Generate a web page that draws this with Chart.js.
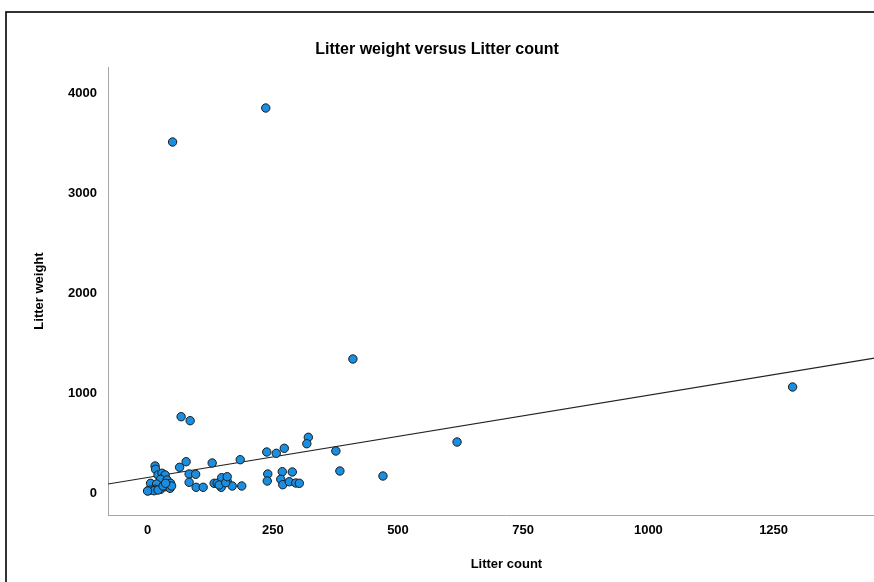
<!DOCTYPE html>
<html>
<head>
<meta charset="utf-8">
<script src="https://cdn.jsdelivr.net/npm/chart.js@4.4.1/dist/chart.umd.min.js"></script>
<style>
  html, body { margin: 0; padding: 0; background: #fff; overflow: hidden; }
  #wrap { width: 910px; height: 582px; }
</style>
</head>
<body>
<div id="wrap"><canvas id="c" width="910" height="582"></canvas></div>
<script>
// litter count (x) and litter weight (y), one entry per observation
const litterCount = [
  50, 236, 410, 618, 376, 384, 470, 1288,
  185, 238, 257, 273, 321, 318, 240, 239, 269, 289, 266, 270, 283, 296, 303,
  67, 85, 15, 16, 77, 64, 129, 83, 96, 83, 97, 111,
  6, 21, 29, 35, 26, 39, 46, 18, 33, 1, 7, 15, 26, 36, 45,
  133, 139, 148, 147, 159, 169, 188, 143, 13, 21, 48, 31, 36, 0, 156, 159
];
const litterWeight = [
  3510, 3850, 1340, 510, 420, 220, 170, 1060,
  333, 410, 397, 447, 557, 493, 190, 120, 213, 210, 137, 83, 113, 100, 97,
  763, 723, 270, 237, 313, 257, 300, 190, 187, 107, 57, 57,
  97, 180, 197, 180, 137, 130, 97, 90, 80, 23, 30, 37, 37, 63, 47,
  97, 97, 153, 57, 117, 70, 70, 80, 23, 30, 70, 70, 97, 20, 103, 163
];

// fit line endpoints at the two ends of the x range
const fitX = [-79, 1512];
const fitY = [90, 1398];

const xTicks = [0, 250, 500, 750, 1000, 1250];
const yTicks = [0, 1000, 2000, 3000, 4000];

const points = litterCount.map((x, i) => ({ x, y: litterWeight[i] }));
const fitPoints = fitX.map((x, i) => ({ x, y: fitY[i] }));

const FONT = "'Liberation Sans', Arial, sans-serif";

// white page, black outer frame and the chart heading
const framePlugin = {
  id: 'frame',
  beforeDraw(chart) {
    const ctx = chart.ctx;
    ctx.save();
    ctx.fillStyle = '#fff';
    ctx.fillRect(0, 0, chart.width, chart.height);
    ctx.strokeStyle = '#000';
    ctx.lineWidth = 1.6;
    ctx.strokeRect(6, 12, chart.width + 20, chart.height + 20);
    ctx.fillStyle = '#000';
    ctx.font = 'bold 16px ' + FONT;
    ctx.textAlign = 'center';
    ctx.textBaseline = 'middle';
    ctx.fillText('Litter weight versus Litter count', 437, 50);
    ctx.restore();
  },
};

new Chart(document.getElementById('c'), {
  type: 'scatter',
  data: {
    datasets: [
      {
        type: 'line',
        data: fitPoints,
        borderColor: '#222',
        borderWidth: 1.2,
        pointRadius: 0,
        fill: false,
        order: 2,
      },
      {
        data: points,
        backgroundColor: '#1a8ee0',
        borderColor: '#1c1c1c',
        borderWidth: 1,
        pointRadius: 4.2,
        order: 1,
      },
    ],
  },
  options: {
    responsive: false,
    animation: false,
    layout: { padding: { top: 67, left: 0, right: 0, bottom: 0 } },
    plugins: {
      legend: { display: false },
      tooltip: { enabled: false },
      title: { display: false },
    },
    scales: {
      x: {
        type: 'linear',
        min: fitX[0],
        max: fitX[1],
        grid: { display: false, drawTicks: false },
        border: { display: true, color: '#a6a6a6', width: 1 },
        afterBuildTicks: (s) => { s.ticks = xTicks.map((v) => ({ value: v })); },
        afterFit: (s) => { s.height = 67; },
        ticks: {
          color: '#000',
          padding: 8,
          maxRotation: 0,
          callback: (v) => String(v),
          font: { family: FONT, size: 13, weight: 'bold' },
        },
        title: {
          display: true,
          text: 'Litter count',
          color: '#000',
          font: { family: FONT, size: 13, weight: 'bold' },
          padding: { top: 0, bottom: 10 },
        },
      },
      y: {
        type: 'linear',
        min: -220,
        max: 4260,
        grid: { display: false, drawTicks: false },
        border: { display: true, color: '#a6a6a6', width: 1 },
        afterBuildTicks: (s) => { s.ticks = yTicks.map((v) => ({ value: v })); },
        afterFit: (s) => { s.width = 108; },
        ticks: {
          color: '#000',
          padding: 11,
          callback: (v) => String(v),
          font: { family: FONT, size: 13, weight: 'bold' },
        },
        title: {
          display: true,
          text: 'Litter weight',
          color: '#000',
          font: { family: FONT, size: 13, weight: 'bold' },
          padding: { top: 32, bottom: 0 },
        },
      },
    },
  },
  plugins: [framePlugin],
});
</script>
</body>
</html>
